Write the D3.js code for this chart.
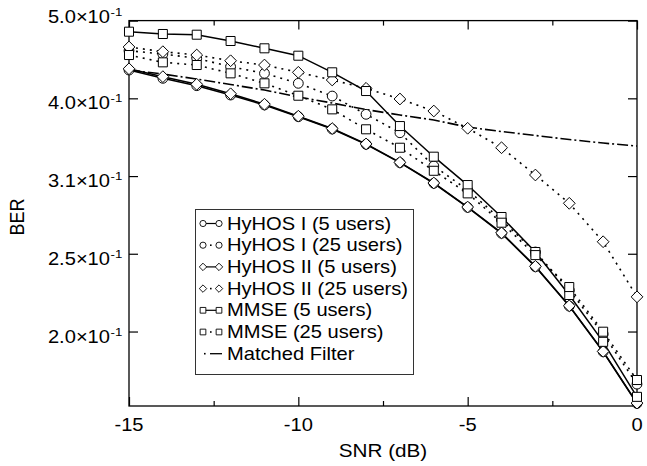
<!DOCTYPE html>
<html lang="en">
<head>
<meta charset="UTF-8">
<title>BER vs SNR</title>
<style>
  body { margin:0; background:#fff; }
  text { font-family: "Liberation Sans", Arial, Helvetica, sans-serif; fill:#000; }
  .axis .domain { display:none; }
  .axis line { stroke:#000; stroke-width:1.2; }
</style>
</head>
<body>
<svg width="647" height="466"></svg>
<script src="https://d3js.org/d3.v7.min.js"></script>
<script>
// SNR points (dB)
var snr = [-15, -14, -13, -12, -11, -10, -9, -8, -7, -6, -5, -4, -3, -2, -1, 0];

// BER values
var hyhos1_5  = [0.4329, 0.4224, 0.4133, 0.4020, 0.3903, 0.3770, 0.3635, 0.3474, 0.3290, 0.3095, 0.2882, 0.2669, 0.2417, 0.2151, 0.1879, 0.1612];
var hyhos1_25 = [0.4584, 0.4540, 0.4482, 0.4372, 0.4287, 0.4162, 0.4008, 0.3797, 0.3595, 0.3258, 0.3034, 0.2776, 0.2525, 0.2256, 0.1980, 0.1707];
var hyhos2_5  = [0.4345, 0.4245, 0.4150, 0.4035, 0.3912, 0.3776, 0.3640, 0.3478, 0.3293, 0.3098, 0.2885, 0.2672, 0.2420, 0.2153, 0.1881, 0.1614];
var hyhos2_25 = [0.4635, 0.4571, 0.4526, 0.4450, 0.4394, 0.4300, 0.4203, 0.4101, 0.3973, 0.3834, 0.3643, 0.3439, 0.3172, 0.2917, 0.2603, 0.2211];
var mmse_5    = [0.4850, 0.4817, 0.4807, 0.4718, 0.4617, 0.4517, 0.4300, 0.4068, 0.3667, 0.3349, 0.3079, 0.2801, 0.2525, 0.2223, 0.1935, 0.1644];
var mmse_25   = [0.4526, 0.4429, 0.4394, 0.4287, 0.4162, 0.4012, 0.3853, 0.3632, 0.3439, 0.3212, 0.3004, 0.2754, 0.2502, 0.2276, 0.1994, 0.1728];
var matched   = [0.4329, 0.4278, 0.4215, 0.4147, 0.4080, 0.3997, 0.3926, 0.3851, 0.3789, 0.3733, 0.3656, 0.3608, 0.3566, 0.3524, 0.3487, 0.3456];

// axis ticks
var xMajor = [-15, -10, -5, 0];
var xMinor = [-12.5, -7.5, -2.5];
var yTicks = [0.5012, 0.3981, 0.3162, 0.2512, 0.1995];
var yTickLabels = ["5.0", "4.0", "3.1", "2.5", "2.0"];

var series = [
    {name: "HyHOS I (5 users)",   values: hyhos1_5,  style: "solid",  marker: "circle"},
    {name: "HyHOS I (25 users)",  values: hyhos1_25, style: "dotted", marker: "circle"},
    {name: "HyHOS II (5 users)",  values: hyhos2_5,  style: "solid",  marker: "diamond"},
    {name: "HyHOS II (25 users)", values: hyhos2_25, style: "dotted", marker: "diamond"},
    {name: "MMSE (5 users)",      values: mmse_5,    style: "solid",  marker: "square"},
    {name: "MMSE (25 users)",     values: mmse_25,   style: "dotted", marker: "square"},
    {name: "Matched Filter",      values: matched,   style: "dashdot", marker: null}
];

var svg = d3.select("svg"),
    plotL = 129, plotR = 637, plotT = 20.6, plotB = 406,
    stretch = 1.15;   // the figure's text is a bit wide

var x = d3.scaleLinear().domain([-15, 0]).range([plotL, plotR]);
var y = d3.scaleLog().domain([0.16, 0.5012]).range([plotB, plotT]);

var dashes = {solid: null, dotted: "2,5", dashdot: "11,3,2,3"};

function wideText(g, px, py, str, size, anchor) {
    return g.append("text")
        .attr("transform", "translate(" + px + "," + py + ") scale(" + stretch + ",1)")
        .attr("font-size", size)
        .attr("text-anchor", anchor || "start")
        .text(str);
}

function markerPath(type, r) {
    if (type === "circle") {
        var p = d3.path();
        p.arc(0, 0, r, 0, 2 * Math.PI);
        p.closePath();
        return p.toString();
    }
    if (type === "square") {
        var s = r * 0.92;
        return "M" + (-s) + "," + (-s) + "H" + s + "V" + s + "H" + (-s) + "Z";
    }
    var d = r * 1.2;
    return "M0," + (-d) + "L" + d + ",0L0," + d + "L" + (-d) + ",0Z";
}

// ticks: inward on all four sides
svg.append("g").attr("class", "axis")
    .attr("transform", "translate(0," + plotB + ")")
    .call(d3.axisBottom(x).tickValues(xMajor).tickSizeInner(-9).tickSizeOuter(0).tickFormat(""));
svg.append("g").attr("class", "axis")
    .attr("transform", "translate(0," + plotB + ")")
    .call(d3.axisBottom(x).tickValues(xMinor).tickSizeInner(-5).tickSizeOuter(0).tickFormat(""));
svg.append("g").attr("class", "axis")
    .attr("transform", "translate(0," + plotT + ")")
    .call(d3.axisTop(x).tickValues(xMajor).tickSizeInner(-9).tickSizeOuter(0).tickFormat(""));
svg.append("g").attr("class", "axis")
    .attr("transform", "translate(0," + plotT + ")")
    .call(d3.axisTop(x).tickValues(xMinor).tickSizeInner(-5).tickSizeOuter(0).tickFormat(""));
svg.append("g").attr("class", "axis")
    .attr("transform", "translate(" + plotL + ",0)")
    .call(d3.axisLeft(y).tickValues(yTicks).tickSizeInner(-9).tickSizeOuter(0).tickFormat(""));
svg.append("g").attr("class", "axis")
    .attr("transform", "translate(" + plotR + ",0)")
    .call(d3.axisRight(y).tickValues(yTicks).tickSizeInner(-9).tickSizeOuter(0).tickFormat(""));

// frame
svg.append("rect")
    .attr("x", plotL).attr("y", plotT)
    .attr("width", plotR - plotL).attr("height", plotB - plotT)
    .attr("fill", "none").attr("stroke", "#000").attr("stroke-width", 1.3);

// tick labels
xMajor.forEach(function(v) {
    wideText(svg, x(v), 431, String(v), 17.5, "middle");
});
yTicks.forEach(function(v, i) {
    var py = (i === 0) ? y(v) + 2.5 : y(v) + 11;
    wideText(svg, 110, py, yTickLabels[i] + "\u00d710", 17.5, "end");
    svg.append("text")
        .attr("transform", "translate(110.5," + (py - 7) + ") scale(" + stretch + ",1)")
        .attr("font-size", 11.5)
        .text("-1");
});

// axis titles
wideText(svg, 383, 457, "SNR (dB)", 18, "middle");
svg.append("text")
    .attr("transform", "translate(24,217) scale(" + stretch + ",1) rotate(-90)")
    .attr("font-size", 18)
    .attr("text-anchor", "middle")
    .text("BER");

// lines
var line = d3.line()
    .x(function(d, i) { return x(snr[i]); })
    .y(function(d) { return y(d); });

svg.append("g").selectAll("path")
    .data(series)
    .enter().append("path")
        .attr("d", function(d) { return line(d.values); })
        .attr("fill", "none")
        .attr("stroke", "#000")
        .attr("stroke-width", function(d) { return d.style === "solid" ? 1.5 : 1.6; })
        .attr("stroke-dasharray", function(d) { return dashes[d.style]; });

// markers
series.filter(function(d) { return d.marker; }).forEach(function(s) {
    svg.append("g").selectAll("path")
        .data(s.values)
        .enter().append("path")
            .attr("transform", function(d, i) { return "translate(" + x(snr[i]) + "," + y(d) + ")"; })
            .attr("d", markerPath(s.marker, 4.9))
            .attr("fill", "#fff")
            .attr("stroke", "#000")
            .attr("stroke-width", 1);
});

// legend
var lg = svg.append("g");
lg.append("rect")
    .attr("x", 195.5).attr("y", 209.5)
    .attr("width", 218).attr("height", 165)
    .attr("fill", "#fff").attr("stroke", "#333").attr("stroke-width", 1);

series.forEach(function(s, i) {
    var cy = 223.5 + i * 21.7;
    var row = lg.append("g");
    if (s.marker) {
        if (s.style === "solid") {
            row.append("line").attr("x1", 203).attr("x2", 219).attr("y1", cy).attr("y2", cy)
                .attr("stroke", "#000").attr("stroke-width", 1.2);
        } else {
            row.append("rect").attr("x", 210).attr("y", cy - 0.8).attr("width", 1.6).attr("height", 1.6)
                .attr("fill", "#000");
        }
        [203, 219].forEach(function(mx) {
            row.append("path")
                .attr("transform", "translate(" + mx + "," + cy + ")")
                .attr("d", markerPath(s.marker, 3.1))
                .attr("fill", "#fff").attr("stroke", "#000").attr("stroke-width", 0.9);
        });
    } else {
        row.append("rect").attr("x", 204).attr("y", cy - 0.8).attr("width", 1.6).attr("height", 1.6)
            .attr("fill", "#000");
        row.append("line").attr("x1", 210).attr("x2", 222).attr("y1", cy).attr("y2", cy)
            .attr("stroke", "#000").attr("stroke-width", 1.3);
    }
    wideText(row, 227, cy + 6, s.name, 17.5, "start");
});
</script>
</body>
</html>
